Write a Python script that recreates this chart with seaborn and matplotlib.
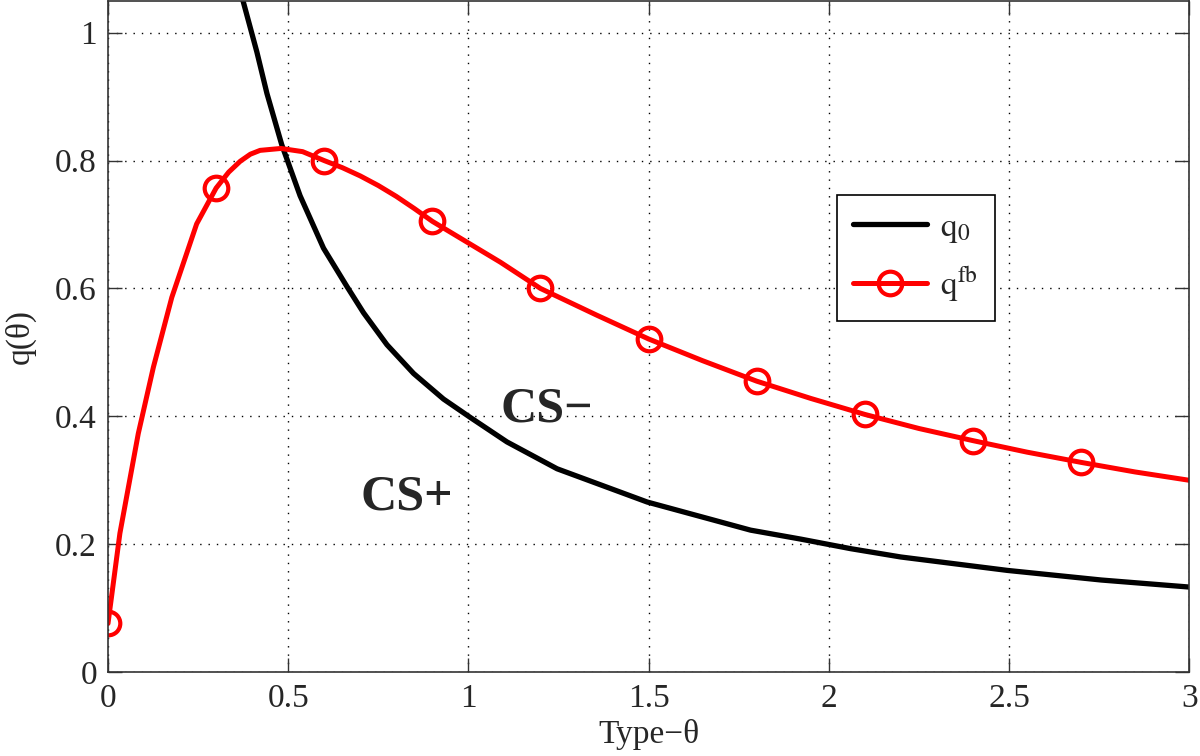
import matplotlib
matplotlib.use("Agg")
import matplotlib.pyplot as plt
import numpy as np
import pandas as pd
import seaborn as sns

# values
theta_q0 = [0.365, 0.413, 0.441, 0.482, 0.533, 0.598, 0.663, 0.709, 0.774, 0.848, 0.931,
            1.006, 1.107, 1.246, 1.496, 1.783, 1.922, 2.061, 2.2, 2.496, 2.756, 3.0]
q0 = [1.07, 0.97, 0.905, 0.825, 0.745, 0.663, 0.603, 0.562, 0.512, 0.467, 0.427,
      0.398, 0.36, 0.318, 0.266, 0.222, 0.208, 0.193, 0.18, 0.159, 0.144, 0.133]

theta_fb = [0.0, 0.033, 0.084, 0.126, 0.177, 0.246, 0.30, 0.335, 0.367, 0.395, 0.422, 0.48,
            0.54, 0.60, 0.65, 0.70, 0.75, 0.80, 0.85, 0.90, 1.089, 1.20, 1.357, 1.50, 1.65,
            1.80, 1.95, 2.10, 2.25, 2.40, 2.55, 2.70, 2.85, 3.00]
qfb = [0.076, 0.217, 0.373, 0.477, 0.586, 0.701, 0.757, 0.782, 0.799, 0.810, 0.816, 0.819,
       0.814, 0.80, 0.789, 0.776, 0.761, 0.744, 0.725, 0.705, 0.641, 0.60, 0.558, 0.521, 0.487,
       0.455, 0.428, 0.403, 0.381, 0.362, 0.344, 0.328, 0.313, 0.30]
fb_markers = [0, 6, 13, 19, 21, 23, 25, 27, 29, 31]

xticks = [0, 0.5, 1, 1.5, 2, 2.5, 3]
xticklabels = ['0', '0.5', '1', '1.5', '2', '2.5', '3']
yticks = [0, 0.2, 0.4, 0.6, 0.8, 1]
yticklabels = ['0', '0.2', '0.4', '0.6', '0.8', '1']

df0 = pd.DataFrame({'theta': theta_q0, 'q': q0})
dfb = pd.DataFrame({'theta': theta_fb, 'q': qfb})

sns.set_style("ticks")
plt.rcParams['font.family'] = ['Liberation Serif', 'DejaVu Serif']
plt.rcParams['mathtext.fontset'] = 'stix'

fig = plt.figure(figsize=(12, 7.56), dpi=100)
ax = fig.add_axes([0.09, 0.111, 0.901, 0.888])

sns.lineplot(data=df0, x='theta', y='q', ax=ax, color='black', lw=3.8,
             sort=False, estimator=None, label=r'$\mathrm{q_0}$')
sns.lineplot(data=dfb, x='theta', y='q', ax=ax, color='red', lw=3.6,
             sort=False, estimator=None, marker='o', markevery=fb_markers,
             markersize=17, markerfacecolor='none', markeredgecolor='red',
             markeredgewidth=3, label=r'$\mathrm{q^{fb}}$')

ax.set_xlim(0, 3)
ax.set_ylim(0, 1.05)
ax.set_xticks(xticks)
ax.set_xticklabels(xticklabels)
ax.set_yticks(yticks)
ax.set_yticklabels(yticklabels)
ax.tick_params(direction='in', length=10, width=1, labelsize=24, top=True, right=True,
               color='#333333', pad=8)
ax.grid(True, linestyle=(0, (1, 5)), color='black', lw=1)
for s in ax.spines.values():
    s.set_color('#333333')
    s.set_linewidth(1.2)

ax.set_xlabel('Type\u2212\u03b8', fontsize=24, labelpad=4)
ax.set_ylabel('q(\u03b8)', fontsize=24, labelpad=14)

ax.text(1.09, 0.41, 'CS\u2212', fontsize=36, fontweight='bold', va='center', ha='left')
ax.text(0.70, 0.273, 'CS+', fontsize=36, fontweight='bold', va='center', ha='left')

leg = ax.legend(loc='upper left', bbox_to_anchor=(0.674, 0.71), fontsize=24,
                frameon=True, fancybox=False, edgecolor='black', framealpha=1,
                handlelength=2.2, handletextpad=0.4, borderpad=0.5, labelspacing=0.6,
                borderaxespad=0)
leg.get_frame().set_linewidth(1.2)

plt.savefig('out.png', dpi=100)
plt.close()
